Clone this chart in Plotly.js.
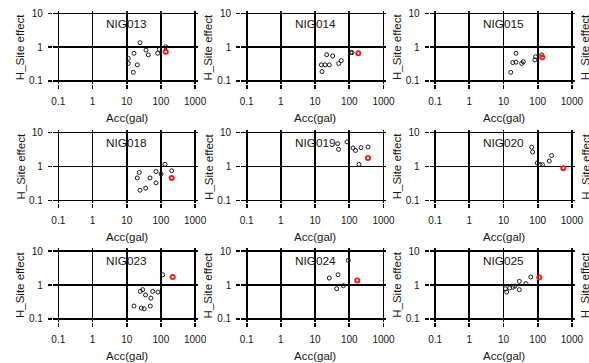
<!DOCTYPE html>
<html><head><meta charset="utf-8">
<script src="https://cdn.plot.ly/plotly-3.0.1.min.js"></script>
<style>html,body{margin:0;padding:0;background:#fff;}#chart{width:589px;height:363px;}</style>
</head><body><div id="chart"></div>
<script>
const stations = ['NIG013','NIG014','NIG015','NIG018','NIG019','NIG020','NIG023','NIG024','NIG025'];

const accNIG013 = [11.1, 11.1, 16.3, 15.6, 20.4, 24.5, 36.6, 42.8, 80.6, 89.8, 138];
const hNIG013   = [0.47, 0.33, 0.66, 0.18, 0.30, 1.35, 0.82, 0.59, 0.66, 0.86, 1.03];
const accNIG014 = [15.9, 15.2, 19.5, 26, 21.8, 32.7, 49, 58.4, 110, 120];
const hNIG014   = [0.19, 0.30, 0.30, 0.30, 0.60, 0.55, 0.33, 0.40, 0.69, 0.69];
const accNIG015 = [16.3, 18.6, 23.2, 23.2, 34, 38, 83, 87, 131];
const hNIG015   = [0.18, 0.35, 0.36, 0.66, 0.33, 0.37, 0.42, 0.52, 0.59];
const accNIG018 = [20.4, 23.3, 24.5, 36, 48, 72, 72, 101, 132, 207];
const hNIG018   = [0.46, 0.67, 0.20, 0.23, 0.46, 0.71, 0.33, 0.60, 1.16, 0.75];
const accNIG019 = [45.8, 48.3, 85.7, 128, 152, 220, 192, 352];
const hNIG019   = [4.7, 3.2, 5.3, 3.5, 2.96, 3.6, 1.15, 3.75];
const accNIG020 = [67, 71, 97, 117, 138, 218, 256];
const hNIG020   = [3.7, 2.67, 1.27, 1.13, 1.13, 1.45, 2.1];
const accNIG023 = [16.3, 26.7, 32.5, 49, 25, 29.4, 35.5, 51, 57.5, 82, 113];
const hNIG023   = [0.24, 0.21, 0.20, 0.24, 0.65, 0.73, 0.51, 0.41, 0.65, 0.62, 2.0];
const accNIG024 = [26, 46.8, 42.8, 67, 93.5];
const hNIG024   = [1.6, 2.0, 0.78, 0.95, 5.3];
const accNIG025 = [11.4, 12.4, 15.2, 19, 21.7, 29, 29, 45.5, 62.8];
const hNIG025   = [0.78, 0.62, 0.82, 0.86, 0.93, 1.28, 0.73, 1.09, 1.72];

// highlighted (red) event per station
const redAcc = [138, 183, 136, 207, 352, 561, 221, 171, 111];
const redH   = [0.73, 0.66, 0.50, 0.46, 1.78, 0.89, 1.72, 1.36, 1.66];

const xTickVals = [0.1, 1, 10, 100, 1000];
const xTickText = ['0.1', '1', '10', '100', '1000'];
const yTickVals = [0.1, 1, 10];
const yTickText = ['0.1', '1', '10'];

const accLists = [accNIG013, accNIG014, accNIG015, accNIG018, accNIG019, accNIG020, accNIG023, accNIG024, accNIG025];
const hLists   = [hNIG013, hNIG014, hNIG015, hNIG018, hNIG019, hNIG020, hNIG023, hNIG024, hNIG025];

const W = 589, H = 363;
const colPitch = 188.4;
const xLeft = 52.8, xRight = 198, x01 = 58.3, dec = 34.2;
const rowTop = [10.6, 129.8, 248.3], rowBot = [83.7, 203.2, 321.7];
const xr0 = -1 - (x01 - xLeft) / dec, xr1 = -1 + (xRight - x01) / dec;
const txtColor = '#161616';
const fam = 'Liberation Sans, Arial, sans-serif';

const data = [];
const layout = {
  width: W, height: H, margin: {l:0, r:0, t:0, b:0},
  paper_bgcolor: '#fff', plot_bgcolor: '#fff', showlegend: false,
  annotations: []
};

stations.forEach((st, i) => {
  const c = i % 3, r = Math.floor(i / 3);
  const ax = i === 0 ? '' : String(i + 1);
  data.push({
    type: 'scatter', mode: 'markers', x: accLists[i], y: hLists[i],
    xaxis: 'x' + ax, yaxis: 'y' + ax,
    marker: {symbol: 'circle-open', size: 4, color: '#1a1a1a', line: {width: 1, color: '#1a1a1a'}}
  });
  data.push({
    type: 'scatter', mode: 'markers', x: [redAcc[i]], y: [redH[i]],
    xaxis: 'x' + ax, yaxis: 'y' + ax,
    marker: {symbol: 'circle-open', size: 4.2, color: '#ff1a1a', line: {width: 1.9, color: '#ff1a1a'}}
  });
  const off = c * colPitch;
  layout['xaxis' + ax] = {
    type: 'log', anchor: 'y' + ax,
    domain: [(xLeft + off) / W, (xRight + off) / W],
    range: [xr0, xr1], tickvals: xTickVals, ticktext: xTickText,
    showgrid: true, gridcolor: '#000', gridwidth: 1.6, zeroline: false, showline: false,
    ticks: 'outside', ticklen: 4, tickwidth: 1.6, tickcolor: '#000',
    ticklabelstandoff: 4,
    tickfont: {family: fam, size: 10, color: txtColor}
  };
  layout['yaxis' + ax] = {
    type: 'log', anchor: 'x' + ax,
    domain: [1 - rowBot[r] / H, 1 - rowTop[r] / H],
    range: [-1.08, 1.08], tickvals: yTickVals, ticktext: yTickText,
    showgrid: true, gridcolor: '#000', gridwidth: 1.6, zeroline: false, showline: false,
    ticks: 'outside', ticklen: 4, tickwidth: 1.6, tickcolor: '#000',
    ticklabelstandoff: 3,
    tickfont: {family: fam, size: 10, color: txtColor}
  };
  // station name inside panel
  layout.annotations.push({
    xref: 'x' + ax, yref: 'y' + ax, x: 1, y: Math.log10(5),
    text: st, showarrow: false, xanchor: 'center', yanchor: 'middle',
    font: {family: fam, size: 11.8, color: txtColor}
  });
  // x axis title
  layout.annotations.push({
    xref: 'paper', yref: 'paper', x: (126.7 + off) / W, y: 1 - (118.3 + r * 119) / H,
    text: 'Acc(gal)', showarrow: false, xanchor: 'center', yanchor: 'middle',
    font: {family: fam, size: 11.5, color: txtColor}
  });
  // y axis title
  layout.annotations.push({
    xref: 'paper', yref: 'paper', x: (20 + off) / W, y: 1 - ((rowTop[r] + rowBot[r]) / 2) / H,
    text: 'H_Site effect', textangle: -90, showarrow: false, xanchor: 'center', yanchor: 'middle',
    font: {family: fam, size: 11.5, color: txtColor}
  });
});
// partially visible y titles of the cut-off fourth column (cut in the reference too)
[0, 1, 2].forEach(r => {
  layout.annotations.push({
    xref: 'paper', yref: 'paper', x: (20 + 3 * colPitch) / W, y: 1 - ((rowTop[r] + rowBot[r]) / 2) / H,
    text: 'H_Site effect', textangle: -90, showarrow: false, xanchor: 'center', yanchor: 'middle',
    font: {family: fam, size: 11.5, color: txtColor}
  });
});

Plotly.newPlot('chart', data, layout, {staticPlot: true, displayModeBar: false});
</script>
</body></html>
